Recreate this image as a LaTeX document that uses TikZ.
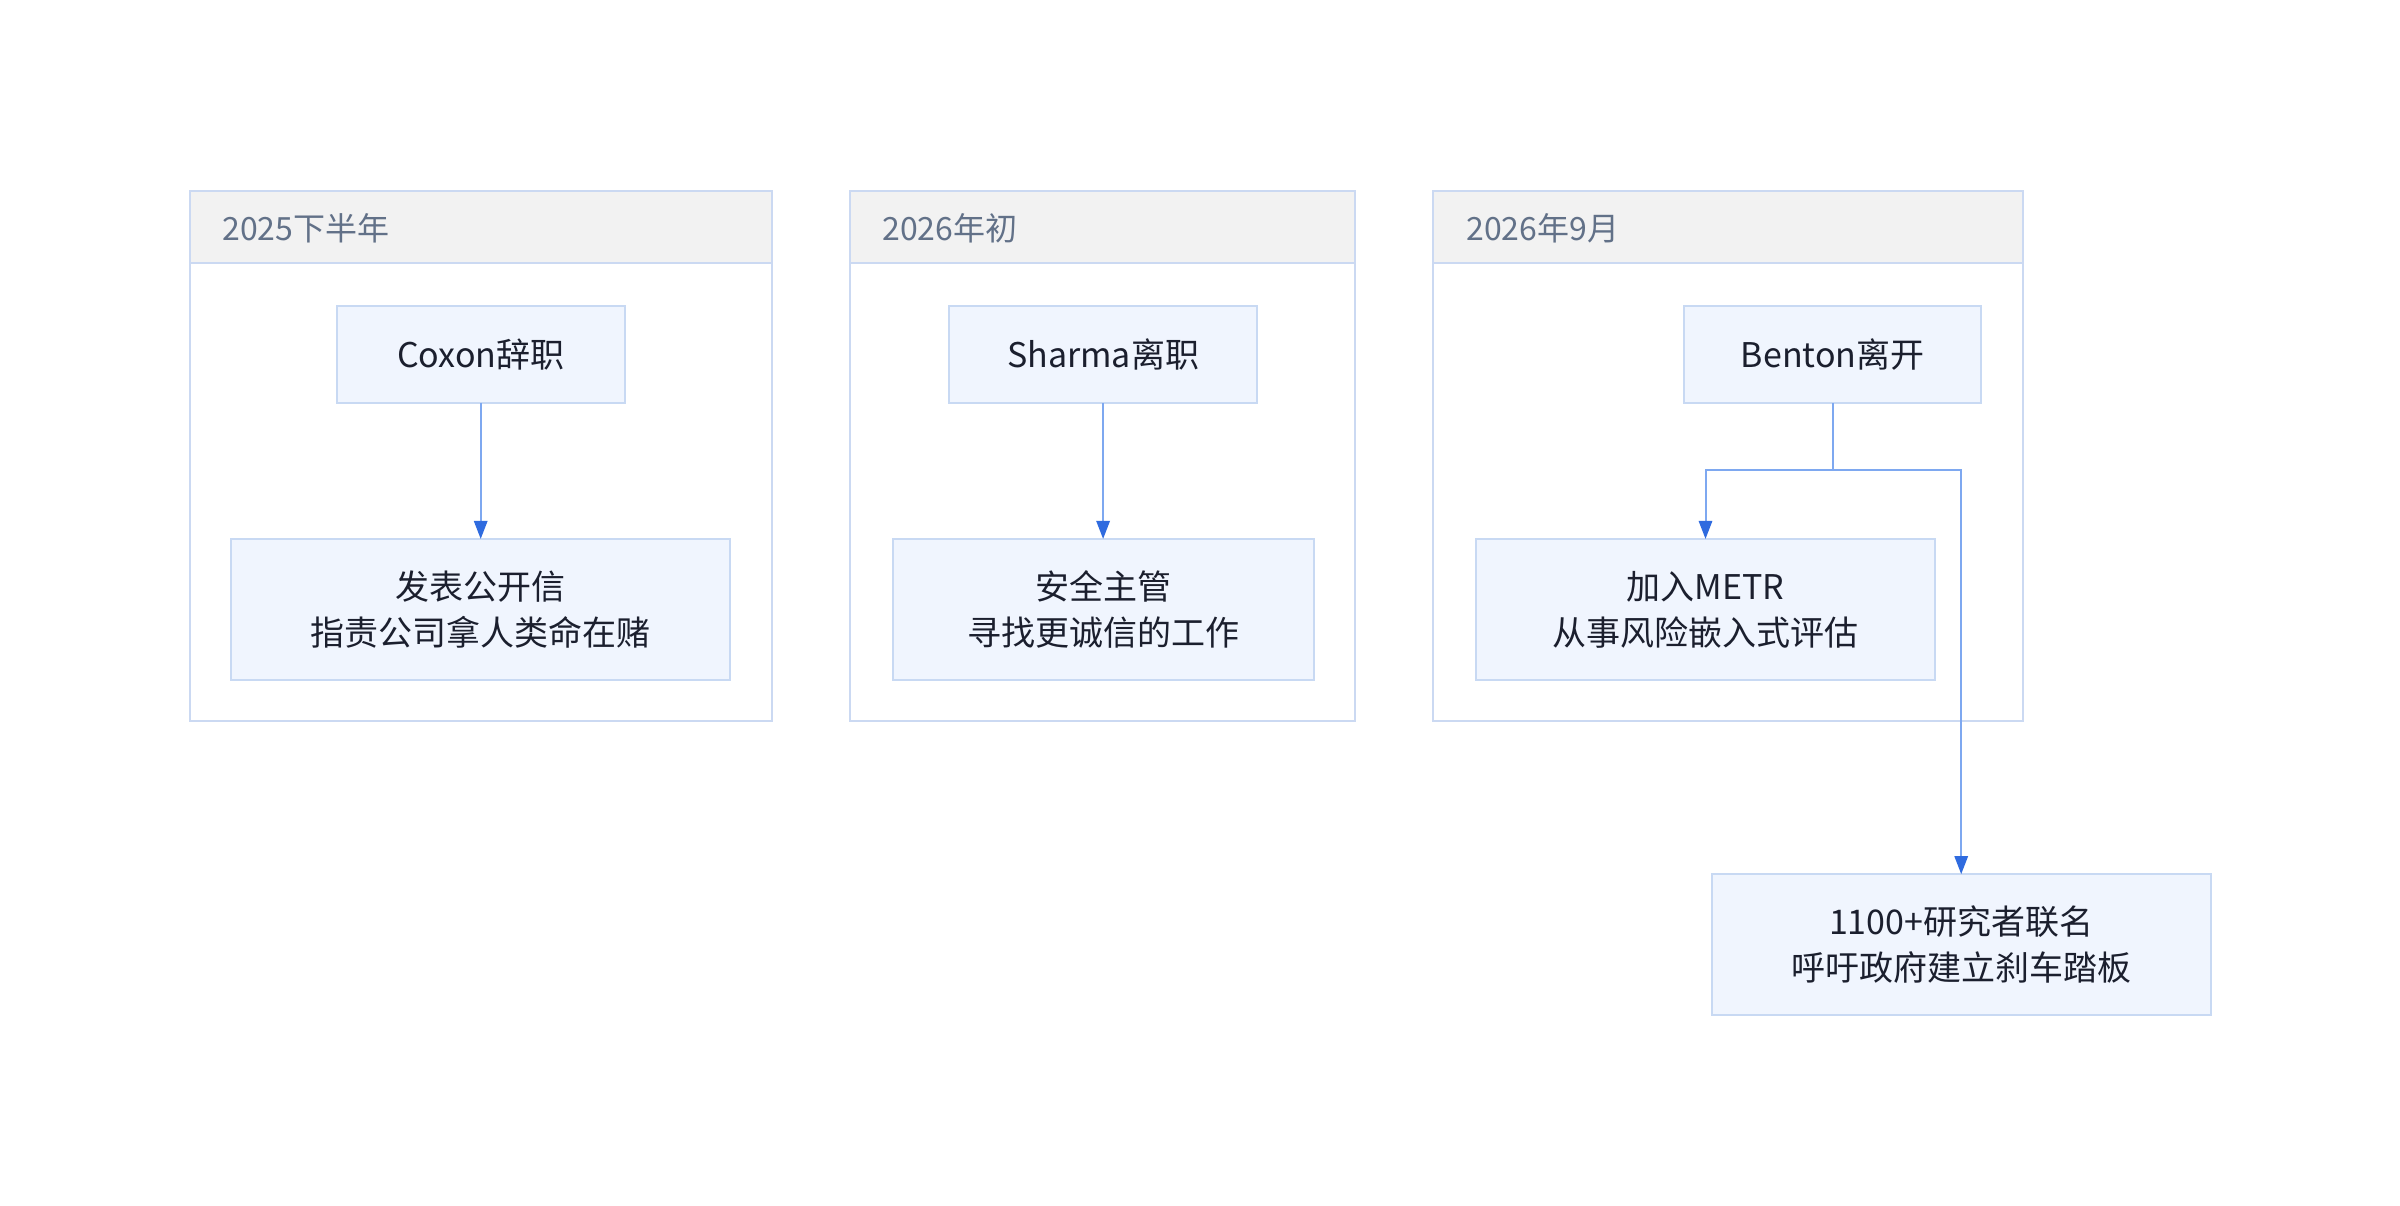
\documentclass[tikz,border=0pt]{standalone}
\usepackage{fontspec}
\setmainfont{Noto Sans CJK SC}
\usetikzlibrary{arrows.meta}
\definecolor{clborder}{HTML}{CBD9F2}
\definecolor{hdrfill}{HTML}{F2F2F2}
\definecolor{hdrtext}{HTML}{627188}
\definecolor{nodefill}{HTML}{F0F5FE}
\definecolor{nodeborder}{HTML}{C8D9F3}
\definecolor{nodetext}{HTML}{1B1F2E}
\definecolor{edgeline}{HTML}{7EA8F0}
\definecolor{edgehead}{HTML}{2F6BDF}
\tikzset{
  cluster/.style={draw=clborder, line width=1.5pt, fill=white, rectangle, inner sep=0pt, outer sep=0pt},
  hdr/.style={draw=clborder, line width=1.5pt, fill=hdrfill, rectangle, inner sep=0pt, outer sep=0pt},
  hdrlabel/.style={text=hdrtext, font=\fontsize{24}{28}\selectfont, anchor=west, inner sep=0pt},
  box/.style={draw=nodeborder, line width=1.5pt, fill=nodefill, rectangle, inner sep=0pt, outer sep=0pt,
    text=nodetext, font=\fontsize{25.5}{34.5}\selectfont, align=center},
  edge/.style={draw=edgeline, line width=1.5pt, -{Triangle[length=13.5pt,width=10pt,color=edgehead]}},
  plainedge/.style={draw=edgeline, line width=1.5pt},
}
\begin{document}
\begin{tikzpicture}[x=0.75pt,y=-0.75pt]
\useasboundingbox[fill=white] (0,0) rectangle (2400,1206);
% clusters
\node[cluster, minimum width=436.4pt, minimum height=397.3pt] (c1) at (480.7,456.3) {};
\node[hdr, minimum width=436.4pt, minimum height=53.9pt] (h1) at (480.7,227.4) {};
\node[hdrlabel] (t1) at (222,228) {2025下半年};
\node[cluster, minimum width=378.9pt, minimum height=397.3pt] (c2) at (1102.3,456.3) {};
\node[hdr, minimum width=378.9pt, minimum height=53.9pt] (h2) at (1102.3,227.4) {};
\node[hdrlabel] (t2) at (882,228) {2026年初};
\node[cluster, minimum width=442.1pt, minimum height=397.3pt] (c3) at (1727.8,456.3) {};
\node[hdr, minimum width=442.1pt, minimum height=53.9pt] (h3) at (1727.8,227.4) {};
\node[hdrlabel] (t3) at (1466,228) {2026年9月};
% nodes
\node[box, minimum width=215.9pt, minimum height=72.4pt] (coxon) at (480.7,354.5) {Coxon辞职};
\node[box, minimum width=374.3pt, minimum height=105.7pt] (letter) at (480.7,609.4) {发表公开信\\指责公司拿人类命在赌};
\node[box, minimum width=231.1pt, minimum height=72.4pt] (sharma) at (1103.1,354.5) {Sharma离职};
\node[box, minimum width=315.8pt, minimum height=105.7pt] (safety) at (1103.1,609.4) {安全主管\\寻找更诚信的工作};
\node[box, minimum width=222.8pt, minimum height=72.4pt] (benton) at (1832.6,354.5) {Benton离开};
\node[box, minimum width=344.5pt, minimum height=105.7pt] (metr) at (1705.5,609.4) {加入METR\\从事风险嵌入式评估};
\node[box, minimum width=374.3pt, minimum height=105.7pt] (sign) at (1961.2,944.6) {1100+研究者联名\\呼吁政府建立刹车踏板};
% edges
\draw[edge] (coxon) -- (letter);
\draw[edge] (sharma) -- (safety);
\coordinate (split) at (1832.6,470);
\draw[plainedge] (benton.south) -- (split);
\draw[edge] (split) -| (metr.north);
\draw[edge] (split) -| (sign.north);
\end{tikzpicture}
\end{document}
